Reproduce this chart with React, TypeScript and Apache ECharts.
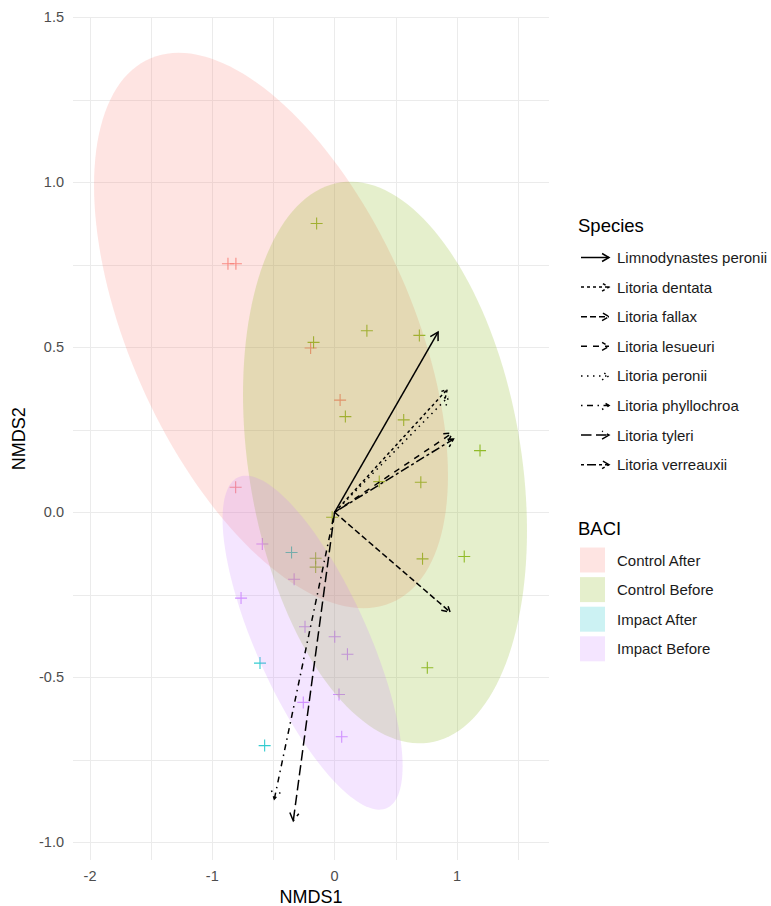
import React, { useEffect, useRef } from "react";
import * as echarts from "echarts";

// ---------- data ----------
const groups = ["Control After", "Control Before", "Impact After", "Impact Before"];
const groupColors = ["#F8766D", "#7CAE00", "#00BFC4", "#C77CFF"];

const controlAfterPts = [
  [-0.872, 0.753], [-0.807, 0.753], [-0.196, 0.498], [0.045, 0.340], [-0.809, 0.076],
];
const controlBeforePts = [
  [-0.147, 0.875], [-0.172, 0.515], [0.264, 0.550], [0.693, 0.536], [0.088, 0.290],
  [0.565, 0.280], [1.189, 0.187], [0.365, 0.093], [0.705, 0.091], [-0.02, -0.015],
  [-0.155, -0.139], [-0.155, -0.166], [0.719, -0.141], [1.060, -0.134], [0.758, -0.471],
];
const impactAfterPts = [[-0.352, -0.122], [-0.610, -0.457], [-0.572, -0.707]];
const impactBeforePts = [
  [-0.591, -0.096], [-0.331, -0.203], [-0.765, -0.260], [-0.242, -0.347], [0.001, -0.377],
  [0.105, -0.430], [0.036, -0.552], [-0.256, -0.576], [0.058, -0.680],
];
const groupPoints = [controlAfterPts, controlBeforePts, impactAfterPts, impactBeforePts];

// ellipse parameters per group: [centerX, centerY, halfExtentX, halfExtentY, correlation]
const ellipseControlAfter = [-0.520, 0.551, 1.447, 0.8415, -0.522];
const ellipseControlBefore = [0.412, 0.151, 1.161, 0.851, -0.243];
const ellipseImpactBefore = [-0.180, -0.395, 0.736, 0.506, -0.740];
const groupEllipses = [ellipseControlAfter, ellipseControlBefore, null, ellipseImpactBefore];

// species vectors
const species = [
  "Limnodynastes peronii", "Litoria dentata", "Litoria fallax", "Litoria lesueuri",
  "Litoria peronii", "Litoria phyllochroa", "Litoria tyleri", "Litoria verreauxii",
];
const vectorX = [0.846, 0.920, 0.944, 0.962, 0.930, -0.493, -0.338, 0.972];
const vectorY = [0.546, 0.372, -0.302, 0.240, 0.350, -0.869, -0.935, 0.222];

// axes
const xTickValues = [-2, -1, 0, 1];
const xGridValues = [-2, -1.5, -1, -0.5, 0, 0.5, 1, 1.5];
const yTickValues = [-1, -0.5, 0, 0.5, 1, 1.5];
const yGridValues = [-1, -0.75, -0.5, -0.25, 0, 0.25, 0.5, 0.75, 1, 1.25, 1.5];

// ---------- styles ----------
const X_MIN = -2.139;
const X_MAX = 1.753;
const Y_MIN = -1.0536;
const Y_MAX = 1.5;
const LW = 1.5;
const dashPatterns: (number[] | null)[] = [
  null, [2, 2], [4, 2], [4, 4], [1, 3], [1, 3, 4, 3], [7, 3], [2, 2, 6, 2],
].map((p) => (p ? p.map((v) => v * LW) : null));
const fontFamily = '"Liberation Sans", Arial, Helvetica, sans-serif';
const PLUS = "path://M0,5.45H12V6.55H0Z M5.45,0H6.55V12H5.45Z";

function hexToRgba(hex: string, a: number) {
  const n = parseInt(hex.slice(1), 16);
  return `rgba(${(n >> 16) & 255},${(n >> 8) & 255},${n & 255},${a})`;
}

function arrowHead(px: number[], angle: number, len: number) {
  const a1 = angle + Math.PI - Math.PI / 6;
  const a2 = angle + Math.PI + Math.PI / 6;
  return [
    [px[0] + len * Math.cos(a1), px[1] + len * Math.sin(a1)],
    [px[0], px[1]],
    [px[0] + len * Math.cos(a2), px[1] + len * Math.sin(a2)],
  ];
}

function buildOption() {
  const series: any[] = [];

  // points
  groups.forEach((g, gi) => {
    series.push({
      type: "scatter",
      name: g,
      data: groupPoints[gi],
      symbol: PLUS,
      symbolSize: 12,
      itemStyle: { color: groupColors[gi] },
      z: 2,
      silent: true,
    });
  });

  // ellipses
  groups.forEach((g, gi) => {
    const e = groupEllipses[gi];
    if (!e) return;
    const fill = hexToRgba(groupColors[gi], 0.2);
    series.push({
      type: "custom",
      name: g + " ellipse",
      data: [e],
      encode: { x: 0, y: 1 },
      z: 3,
      silent: true,
      renderItem: (_p: any, api: any) => {
        const cx = api.value(0), cy = api.value(1), rx = api.value(2), ry = api.value(3), rho = api.value(4);
        const k = Math.sqrt(1 - rho * rho);
        const pts: number[][] = [];
        const N = 160;
        for (let j = 0; j < N; j++) {
          const t = (j / N) * Math.PI * 2;
          pts.push(api.coord([cx + rx * Math.cos(t), cy + ry * (rho * Math.cos(t) + k * Math.sin(t))]));
        }
        return { type: "polygon", shape: { points: pts }, style: { fill, stroke: "none" } };
      },
    });
  });

  // vectors
  series.push({
    type: "custom",
    name: "Species",
    data: species.map((_, i) => [vectorX[i], vectorY[i], i]),
    encode: { x: 0, y: 1 },
    z: 4,
    silent: true,
    renderItem: (_p: any, api: any) => {
      const i = api.value(2);
      const p0 = api.coord([0, 0]);
      const p1 = api.coord([api.value(0), api.value(1)]);
      const ang = Math.atan2(p1[1] - p0[1], p1[0] - p0[0]);
      const dash = dashPatterns[i];
      const style: any = { stroke: "#000", lineWidth: LW, fill: "none" };
      if (dash) style.lineDash = dash;
      return {
        type: "group",
        children: [
          { type: "line", shape: { x1: p0[0], y1: p0[1], x2: p1[0], y2: p1[1] }, style },
          { type: "polyline", shape: { points: arrowHead(p1, ang, 9) }, style: { ...style } },
        ],
      };
    },
  });

  // legends (graphic)
  const graphic: any[] = [];
  const legX = 578;
  const spTitleY = 225.5;
  const spRow0 = 257.5;
  const rowStep = 29.6;
  graphic.push({
    type: "text",
    style: { text: "Species", x: legX, y: spTitleY, fontSize: 18.5, fontFamily, fill: "#000", verticalAlign: "middle" },
  });
  species.forEach((s, i) => {
    const y = spRow0 + i * rowStep;
    const st: any = { stroke: "#000", lineWidth: LW, fill: "none" };
    if (dashPatterns[i]) st.lineDash = dashPatterns[i];
    graphic.push({ type: "line", shape: { x1: 581, y1: y, x2: 609, y2: y }, style: st });
    graphic.push({ type: "polyline", shape: { points: arrowHead([609, y], 0, 8) }, style: { ...st } });
    graphic.push({
      type: "text",
      style: { text: s, x: 617, y, fontSize: 15, fontFamily, fill: "#1a1a1a", verticalAlign: "middle" },
    });
  });
  const bTitleY = 528;
  const bRow0 = 560;
  graphic.push({
    type: "text",
    style: { text: "BACI", x: legX, y: bTitleY, fontSize: 18.5, fontFamily, fill: "#000", verticalAlign: "middle" },
  });
  groups.forEach((g, i) => {
    const y = bRow0 + i * rowStep;
    graphic.push({
      type: "rect",
      shape: { x: 580, y: y - 12.5, width: 25, height: 25 },
      style: { fill: hexToRgba(groupColors[i], 0.2) },
    });
    graphic.push({
      type: "text",
      style: { text: g, x: 617, y, fontSize: 15, fontFamily, fill: "#1a1a1a", verticalAlign: "middle" },
    });
  });

  return {
    animation: false,
    backgroundColor: "#fff",
    grid: { left: 73, right: 222, top: 17.3, bottom: 46, outerBoundsMode: "none" },
    xAxis: {
      type: "value",
      min: X_MIN,
      max: X_MAX,
      name: "NMDS1",
      nameLocation: "middle",
      nameGap: 24,
      nameTextStyle: { fontSize: 18, color: "#000", fontFamily },
      axisLine: { show: false },
      axisTick: { show: false, customValues: xGridValues },
      axisLabel: {
        customValues: xTickValues,
        margin: 8,
        fontSize: 14.5,
        color: "#4D4D4D",
        fontFamily,
        formatter: (v: number) => String(v),
      },
      splitLine: { show: true, lineStyle: { color: "#EBEBEB", width: 1 } },
    },
    yAxis: {
      type: "value",
      min: Y_MIN,
      max: Y_MAX,
      name: "NMDS2",
      nameLocation: "middle",
      nameGap: 42,
      nameTextStyle: { fontSize: 18, color: "#000", fontFamily },
      axisLine: { show: false },
      axisTick: { show: false, customValues: yGridValues },
      axisLabel: {
        customValues: yTickValues,
        margin: 9,
        fontSize: 14.5,
        color: "#4D4D4D",
        fontFamily,
        formatter: (v: number) => v.toFixed(1),
      },
      splitLine: { show: true, lineStyle: { color: "#EBEBEB", width: 1 } },
    },
    series,
    graphic,
  };
}

export default function App() {
  const ref = useRef<HTMLDivElement>(null);
  useEffect(() => {
    if (!ref.current) return;
    const chart = echarts.init(ref.current, null, { renderer: "svg" });
    chart.setOption(buildOption() as any);
    return () => chart.dispose();
  }, []);
  return (
    <div
      ref={ref}
      style={{ position: "absolute", left: 0, top: 0, width: 771, height: 906, background: "#fff" }}
    />
  );
}
